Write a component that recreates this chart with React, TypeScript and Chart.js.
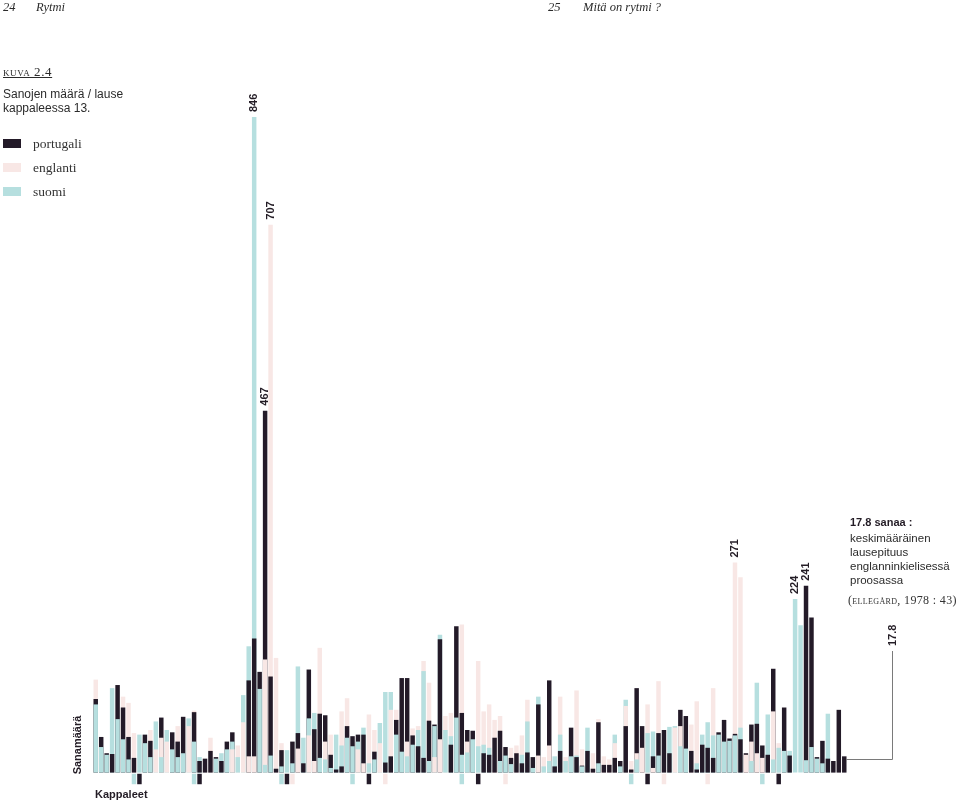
import React, { useEffect, useRef } from "react";
import { Chart, registerables } from "chart.js";

Chart.register(...registerables);

// Kappaleet (paragraph columns)
const kappaleet: string[] = [
  "1","2","3","4","5","6","7","8","9","10","11","12","13","14","15","16","17","18","19","20",
  "21","22","23","24","25","26","27","28","29","30","31","32","33","34","35","36","37","38","39","40",
  "41","42","43","44","45","46","47","48","49","50","51","52","53","54","55","56","57","58","59","60",
  "61","62","63","64","65","66","67","68","69","70","71","72","73","74","75","76","77","78","79","80",
  "81","82","83","84","85","86","87","88","89","90","91","92","93","94","95","96","97","98","99","100",
  "101","102","103","104","105","106","107","108","109","110","111","112","113","114","115","116","117","118","119","120",
  "121","122","123","124","125","126","127","128","129","130","131","132","133","134","135","136","137","138"
];

const portugali: number[] = [
  95, 46, 25, 24, 113, 84, 46, 19, 0, 49,
  41, 0, 71, 0, 52, 40, 72, 0, 78, 15,
  18, 28, 20, 15, 40, 52, 0, 0, 119, 173,
  130, 467, 124, 5, 29, 0, 40, 51, 12, 133,
  56, 76, 74, 23, 4, 8, 60, 47, 49, 49,
  0, 27, 0, 13, 21, 68, 122, 122, 48, 34,
  19, 67, 62, 172, 0, 36, 189, 77, 55, 54,
  0, 25, 23, 45, 54, 33, 19, 25, 12, 26,
  20, 88, 0, 119, 8, 28, 0, 58, 20, 9,
  28, 5, 65, 10, 10, 19, 15, 60, 4, 109,
  60, 0, 21, 51, 55, 25, 0, 81, 73, 28,
  4, 36, 32, 19, 52, 68, 44, 50, 43, 25,
  62, 63, 35, 23, 134, 0, 84, 22, 0, 0,
  241, 200, 20, 41, 18, 15, 81, 21
];

const englanti: number[] = [
  120, 0, 0, 0, 0, 98, 90, 51, 0, 0,
  55, 30, 45, 40, 0, 60, 0, 60, 80, 0,
  0, 45, 0, 0, 0, 30, 35, 65, 21, 21,
  0, 146, 707, 148, 38, 0, 0, 31, 0, 48,
  15, 161, 40, 49, 0, 79, 96, 0, 30, 12,
  75, 55, 38, 0, 81, 81, 0, 40, 57, 60,
  144, 116, 20, 43, 73, 77, 0, 191, 40, 0,
  144, 79, 88, 68, 73, 0, 32, 35, 48, 94,
  0, 22, 20, 35, 0, 98, 20, 0, 106, 30,
  0, 25, 69, 21, 17, 38, 0, 86, 15, 25,
  32, 88, 6, 118, 0, 0, 58, 60, 0, 62,
  92, 0, 0, 109, 0, 0, 0, 271, 252, 23,
  40, 25, 19, 0, 79, 38, 0, 0, 0, 0,
  0, 0, 0, 0, 0, 0, 0, 0
];

const suomi: number[] = [
  88, 33, 23, 109, 69, 43, 17, 0, 49, 38,
  20, 66, 20, 55, 30, 20, 25, 70, 40, 20,
  0, 0, 18, 25, 30, 40, 20, 100, 163, 846,
  108, 10, 22, 0, 8, 29, 12, 137, 45, 70,
  77, 19, 17, 6, 49, 35, 45, 34, 40, 58,
  12, 17, 64, 104, 104, 49, 27, 21, 36, 55,
  131, 15, 60, 178, 55, 47, 71, 23, 26, 43,
  34, 36, 32, 0, 15, 22, 11, 0, 23, 66,
  6, 98, 8, 15, 21, 49, 15, 21, 22, 8,
  58, 0, 12, 0, 0, 49, 8, 94, 0, 17,
  0, 51, 53, 22, 0, 59, 60, 34, 31, 0,
  12, 49, 65, 48, 49, 40, 41, 48, 58, 0,
  15, 116, 0, 75, 17, 32, 28, 28, 224, 190,
  16, 33, 18, 12, 76, 0, 0, 0
];

// columns with a short mark under the baseline, per language
const portugaliAla: number[] = [8, 19, 35, 50, 70, 101, 125];
const englantiAla: number[] = [36, 53, 75, 104, 112];
const suomiAla: number[] = [7, 18, 34, 47, 67, 98, 122];

const keskiarvo = 17.8;

// labelled peaks: [language, column index]
const merkityt: [string, number][] = [
  ["suomi", 29],
  ["englanti", 32],
  ["portugali", 31],
  ["englanti", 117],
  ["suomi", 128],
  ["portugali", 130],
];

const kielet = [
  { nimi: "portugali", arvot: portugali, ala: portugaliAla, vari: "#231a28" },
  { nimi: "englanti", arvot: englanti, ala: englantiAla, vari: "#f8e7e5" },
  { nimi: "suomi", arvot: suomi, ala: suomiAla, vari: "#b6dfdf" },
];

const SANS = '"Liberation Sans", Arial, sans-serif';
const SERIF = '"Liberation Serif", "Times New Roman", serif';

export default function App() {
  const ref = useRef<HTMLCanvasElement>(null);

  useEffect(() => {
    const canvas = ref.current;
    if (!canvas) return;

    // layers: tallest at the back, shortest at the front
    const layers = [0, 1, 2].map(() => ({ data: [] as (number | null)[], colors: [] as string[] }));
    kappaleet.forEach((_, i) => {
      const s = kielet
        .map((k) => ({ v: k.arvot[i], c: k.vari }))
        .sort((a, b) => b.v - a.v);
      s.forEach((e, r) => {
        layers[r].data.push(e.v > 0 ? e.v : null);
        layers[r].colors.push(e.c);
      });
    });

    const datasets: any[] = [
      { label: "front", data: layers[2].data, backgroundColor: layers[2].colors, order: 0 },
      { label: "middle", data: layers[1].data, backgroundColor: layers[1].colors, order: 1 },
      { label: "back", data: layers[0].data, backgroundColor: layers[0].colors, order: 2 },
      ...kielet.map((k, j) => ({
        label: k.nimi + " ala",
        data: kappaleet.map((_, i) => (k.ala.includes(i) ? [-15, -1.5] : null)),
        backgroundColor: k.vari,
        order: 3 + j,
      })),
    ];

    const annot = {
      id: "annot",
      afterDatasetsDraw(chart: any) {
        const { ctx, scales, chartArea } = chart;
        const x = scales.x;
        const y = scales.y;
        ctx.save();
        ctx.fillStyle = "#231c25";
        ctx.font = `bold 11px ${SANS}`;
        ctx.textBaseline = "middle";
        ctx.textAlign = "left";
        merkityt.forEach(([nimi, i]) => {
          const k = kielet.find((kk) => kk.nimi === nimi)!;
          const v = k.arvot[i];
          const px = x.getPixelForValue(i);
          const py = y.getPixelForValue(v);
          ctx.save();
          ctx.translate(px, py - 5);
          ctx.rotate(-Math.PI / 2);
          ctx.fillText(String(v), 0, 0);
          ctx.restore();
        });

        // mean sentence length reference line
        const yl = Math.round(y.getPixelForValue(keskiarvo)) + 0.5;
        const xStart = chartArea.right - 1;
        const xEnd = chartArea.right + 45.5;
        const yTop = 651;
        ctx.strokeStyle = "#7a7a7a";
        ctx.lineWidth = 1;
        ctx.beginPath();
        ctx.moveTo(xStart, yl);
        ctx.lineTo(xEnd, yl);
        ctx.lineTo(xEnd, yTop);
        ctx.stroke();
        ctx.save();
        ctx.translate(xEnd, yTop - 5);
        ctx.rotate(-Math.PI / 2);
        ctx.fillText(String(keskiarvo), 0, 0);
        ctx.restore();
        ctx.restore();
      },
    };

    const chart = new Chart(canvas, {
      type: "bar",
      data: { labels: kappaleet, datasets },
      options: {
        responsive: false,
        animation: false,
        devicePixelRatio: 1,
        layout: { padding: { left: 93, right: 113, top: 117, bottom: 16 } },
        plugins: { legend: { display: false }, tooltip: { enabled: false } },
        datasets: { bar: { barPercentage: 0.82, categoryPercentage: 1, borderWidth: 0 } },
        scales: {
          x: { type: "category", display: false, stacked: true, offset: true, grid: { display: false } },
          y: { display: false, stacked: false, min: -16, max: 846, grid: { display: false } },
        },
      } as any,
      plugins: [annot],
    });
    return () => chart.destroy();
  }, []);

  const abs = (left: number, top: number, extra: React.CSSProperties = {}): React.CSSProperties => ({
    position: "absolute",
    left,
    top,
    whiteSpace: "nowrap",
    margin: 0,
    ...extra,
  });

  const legend = [
    { t: "portugali", c: "#231a28", y: 139 },
    { t: "englanti", c: "#f8e7e5", y: 163 },
    { t: "suomi", c: "#b6dfdf", y: 187 },
  ];

  return (
    <div style={{ position: "absolute", left: 0, top: 0, width: 960, height: 801, background: "#fff", overflow: "hidden", color: "#2b2b2b" }}>
      <canvas ref={ref} width={960} height={801} style={{ position: "absolute", left: 0, top: 0, width: 960, height: 801 }} />

      <div style={abs(3, 0, { font: `italic 12.5px/14px ${SERIF}` })}>24</div>
      <div style={abs(36, 0, { font: `italic 12.5px/14px ${SERIF}` })}>Rytmi</div>
      <div style={abs(548, 0, { font: `italic 12.5px/14px ${SERIF}` })}>25</div>
      <div style={abs(583, 0, { font: `italic 12.5px/14px ${SERIF}` })}>Mitä on rytmi ?</div>

      <div style={abs(3, 64, { font: `13px/15px ${SERIF}`, fontVariant: "small-caps", textDecoration: "underline", letterSpacing: "0.6px" })}>kuva 2.4</div>
      <div style={abs(3, 87, { font: `12px/14px ${SANS}` })}>
        Sanojen määrä / lause
        <br />
        kappaleessa 13.
      </div>

      {legend.map((l) => (
        <React.Fragment key={l.t}>
          <div style={abs(3, l.y, { width: 18, height: 9, background: l.c })} />
          <div style={abs(33, l.y - 3, { font: `13.5px/15px ${SERIF}`, color: "#333" })}>{l.t}</div>
        </React.Fragment>
      ))}

      <div style={abs(850, 515, { font: `bold 11px/14px ${SANS}`, color: "#231c25" })}>17.8 sanaa :</div>
      <div style={abs(850, 531, { font: `11.5px/14px ${SANS}`, color: "#2b2b2b" })}>
        keskimääräinen
        <br />
        lausepituus
        <br />
        englanninkielisessä
        <br />
        proosassa
      </div>
      <div style={abs(848, 593, { font: `12px/14px ${SERIF}`, fontVariant: "small-caps", color: "#333", letterSpacing: "0.35px" })}>(ellegård, 1978 : 43)</div>

      <div
        style={abs(77, 745, {
          font: `bold 11px/12px ${SANS}`,
          color: "#231c25",
          transform: "translate(-50%, -50%) rotate(-90deg)",
        })}
      >
        Sanamäärä
      </div>
      <div style={abs(95, 787, { font: `bold 11px/14px ${SANS}`, color: "#231c25" })}>Kappaleet</div>
    </div>
  );
}
